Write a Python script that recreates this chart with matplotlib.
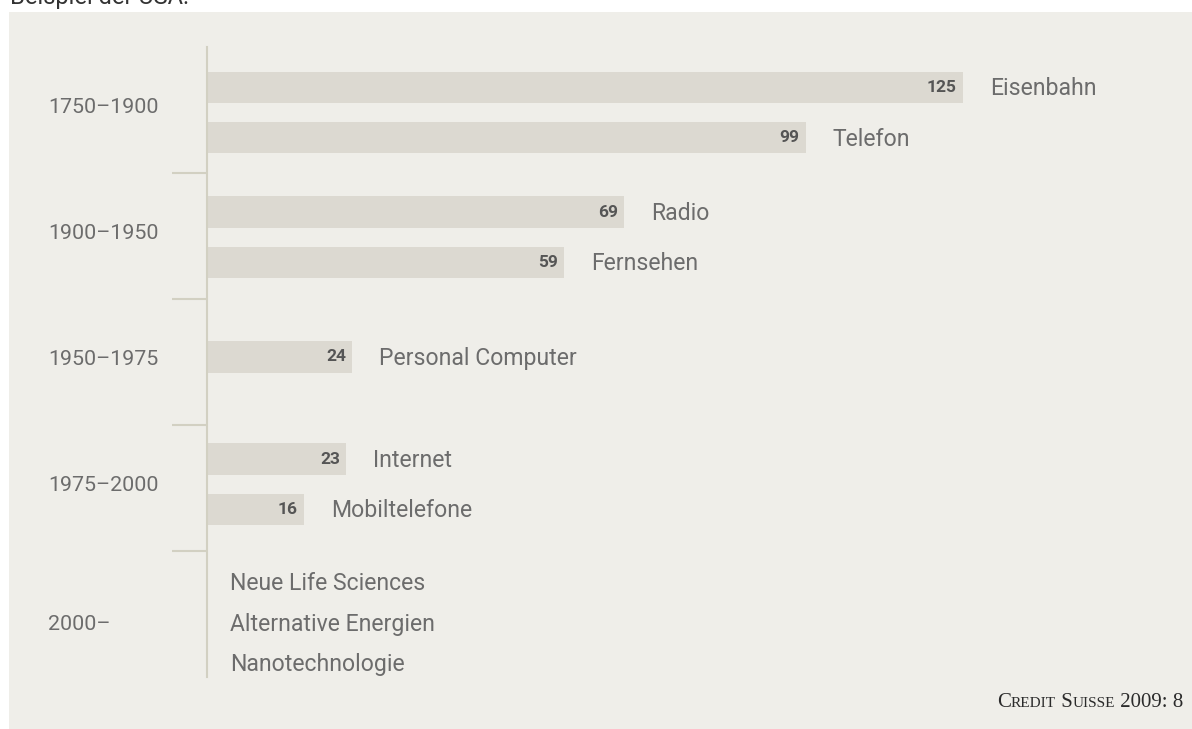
import matplotlib.pyplot as plt
from matplotlib.patches import Rectangle
from matplotlib import transforms

# periods (one band each on the time axis)
periods = ["1750–1900", "1900–1950", "1950–1975", "1975–2000", "2000–"]

# innovations with their years until broad use
bar_names = ["Eisenbahn", "Telefon", "Radio", "Fernsehen",
             "Personal Computer", "Internet", "Mobiltelefone"]
bar_years = [125, 99, 69, 59, 24, 23, 16]
bar_period = [0, 0, 1, 1, 2, 3, 3]

# future fields, no values yet
future_names = ["Neue Life Sciences", "Alternative Energien", "Nanotechnologie"]

title_cut = "Beispiel der USA."
source = [("C", 15), ("REDIT", 11), (" S", 15), ("UISSE", 11), (" 2009: 8", 15)]

W, H = 1192, 729
panel_col = "#efeee9"
bar_col = "#dcd9d1"
line_col = "#d2d0c2"
txt_col = "#6c6c6c"
FONT = ["Roboto", "DejaVu Sans"]
FS = 16.6      # names
FS_P = 15.4    # period labels

# where the bars sit inside each band (fraction of band height)
band_center = [0.52, 0.51, 0.46, 0.47]


def main():
    fig = plt.figure(figsize=(W / 100, H / 100), dpi=100)
    fig.patch.set_facecolor("white")
    # light panel behind the chart
    fig.patches.append(Rectangle((9 / W, 0), 1, 1 - 12 / H, transform=fig.transFigure,
                                 facecolor=panel_col, edgecolor="none", zorder=-10))

    # axes: x = years, y = period bands (1 unit each)
    ax = fig.add_axes([207 / W, 52 / H, 969 / W, 630 / H])
    ax.set_facecolor("none")
    ax.set_xlim(0, 969 / 6.048)
    ax.set_ylim(len(periods), 0)
    for s in ["top", "right", "bottom"]:
        ax.spines[s].set_visible(False)
    ax.spines["left"].set_color(line_col)
    ax.spines["left"].set_linewidth(1.5)
    ax.set_xticks([])
    ax.set_yticks(range(1, len(periods)))
    ax.set_yticklabels([])
    ax.tick_params(axis="y", length=25.2, width=1.5, color=line_col, direction="out")

    # y positions of the bars inside their band
    ypos = []
    for i, p in enumerate(bar_period):
        group = [j for j in range(len(bar_period)) if bar_period[j] == p]
        n = len(group)
        k = group.index(i)
        ypos.append(p + band_center[p] + 0.4 * (k - (n - 1) / 2))

    ax.barh(ypos, bar_years, height=0.25, color=bar_col, zorder=2)
    for y, v, name in zip(ypos, bar_years, bar_names):
        ax.annotate(str(v), (v, y), xytext=(-4.5, 0), textcoords="offset points",
                    ha="right", va="center", fontsize=12.5, fontweight="bold",
                    color="#555555", family=FONT, zorder=3)
        ax.annotate(name, (v, y), xytext=(19.5, -1), textcoords="offset points",
                    ha="left", va="center", fontsize=FS,
                    color=txt_col, family=FONT)

    fpos = [len(periods) - 1 + 0.26 + 0.32 * k for k in range(len(future_names))]
    for y, name in zip(fpos, future_names):
        ax.annotate(name, (0, y), xytext=(16.5, 0), textcoords="offset points",
                    ha="left", va="center", fontsize=FS,
                    color=txt_col, family=FONT)

    # period labels on the left
    tr = transforms.blended_transform_factory(fig.transFigure, ax.transData)
    for p, lab in enumerate(periods):
        if p < len(periods) - 1:
            yl = p + 0.48
        else:
            yl = sum(fpos) / len(fpos)
        ax.text(48 / W, yl, lab, transform=tr, ha="left", va="center",
                fontsize=FS_P, color=txt_col, family=FONT)

    # cut off title line at the very top
    fig.text(10 / W, 1 - 4 / H, title_cut, ha="left", va="baseline", fontsize=17,
             color="#333333", family=FONT)

    # source in small caps, built right to left
    r = fig.canvas.get_renderer()
    x = 1183
    for piece, size in reversed(source):
        t = fig.text(x / W, 1 - 707 / H, piece, ha="right", va="baseline", fontsize=size,
                     color="#2b2b2b", family=["Liberation Serif", "DejaVu Serif"])
        x -= t.get_window_extent(r).width

    fig.savefig("out.png", dpi=100, facecolor=fig.get_facecolor())


if __name__ == "__main__":
    main()
